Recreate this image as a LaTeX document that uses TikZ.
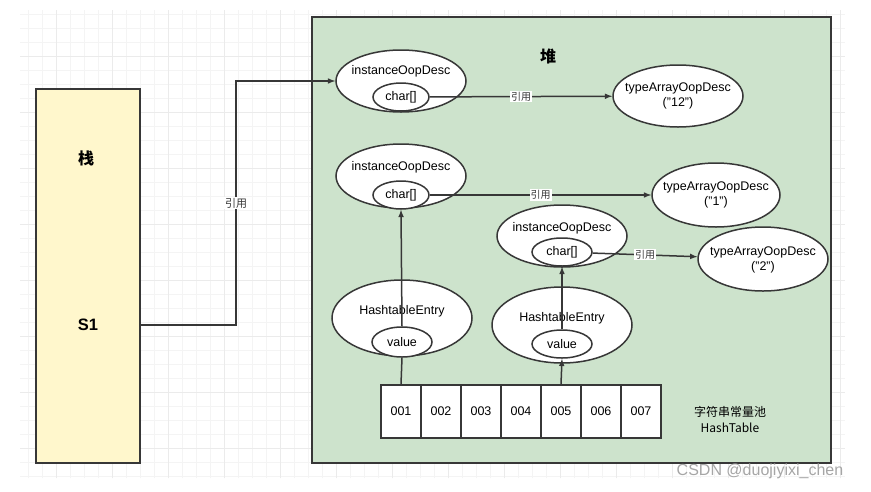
\documentclass[tikz,border=0pt]{standalone}
\usepackage{fontspec}
\setmainfont{Liberation Sans}
\newfontfamily\cjk{Noto Sans CJK SC}
\usetikzlibrary{arrows,shapes.geometric,positioning}

\definecolor{lineGray}{RGB}{55,55,55}
\definecolor{heapGreen}{RGB}{205,227,204}
\definecolor{stackYellow}{RGB}{255,247,204}

\begin{document}
\begin{tikzpicture}[>=latex, x=1pt, y=-1pt]
  \tikzstyle{gridMinor} = [gray!9, line width=0.4pt]
  \tikzstyle{gridMajor} = [gray!16, line width=0.5pt]
  \tikzstyle{area} = [draw=lineGray, line width=1.5pt]
  \tikzstyle{oop} = [draw=lineGray, line width=1.5pt, fill=white, ellipse, inner sep=0pt]
  \tikzstyle{oopText} = [font={\fontsize{12.5}{14.5}\selectfont}, align=center, inner sep=0pt]
  \tikzstyle{field} = [oop, font={\fontsize{12.5}{14.5}\selectfont}]
  \tikzstyle{cell} = [draw=lineGray, line width=1.5pt, fill=white, rectangle, minimum width=40pt, minimum height=53pt, font={\fontsize{12.5}{14.5}\selectfont}]
  \tikzstyle{title} = [font={\cjk\bfseries\fontsize{16}{18}\selectfont}]

  \tikzstyle{refEdgePortion} = [lineGray, line width=1.5pt];
  \tikzstyle{refEdge} = [refEdgePortion,->];
  \tikzstyle{edgeLabel} = [pos=0.5, fill=white, inner sep=1pt, font={\cjk\fontsize{10}{11}\selectfont}];

  \useasboundingbox (0,0) rectangle (871,491);
  \fill[white] (0,0) rectangle (871,491);

  % background grid
  \draw[gridMinor, step=14pt] (20,10) grid (845,478);
  \draw[gridMajor, step=56pt] (20,10) grid (845,478);

  % stack and heap
  \draw[area, fill=stackYellow] (36,89) rectangle (140,463);
  \draw[area, fill=heapGreen] (312,17) rectangle (831,463);
  \coordinate (stackE) at (140,276);
  \node[title] (stackT) at (86,158) {栈};
  \node[font={\bfseries\fontsize{16.5}{18}\selectfont}] (s1) at (88,325) {S1};
  \node[title] (heapT) at (548,56) {堆};

  % objects in the heap
  \node[oop, minimum width=130pt, minimum height=62pt] (i1) at (401,81) {};
  \node[oopText] (i1t) at (401,71) {instanceOopDesc};
  \node[field, minimum width=56pt, minimum height=28pt] (i1c) at (401,97) {char[]};

  \node[oop, minimum width=130pt, minimum height=64pt] (i2) at (401,176) {};
  \node[oopText] (i2t) at (401,167) {instanceOopDesc};
  \node[field, minimum width=56pt, minimum height=28pt] (i2c) at (401,195) {char[]};

  \node[oop, minimum width=130pt, minimum height=62pt] (i3) at (562,236) {};
  \node[oopText] (i3t) at (562,228) {instanceOopDesc};
  \node[field, minimum width=60pt, minimum height=28pt] (i3c) at (562,252) {char[]};

  \node[oop, minimum width=130pt, minimum height=62pt] (t1) at (678,96) {};
  \node[oopText] (t1t) at (678,96) {typeArrayOopDesc\\("12")};
  \node[oop, minimum width=128pt, minimum height=64pt] (t2) at (716,195) {};
  \node[oopText] (t2t) at (716,195) {typeArrayOopDesc\\("1")};
  \node[oop, minimum width=130pt, minimum height=64pt] (t3) at (763,259) {};
  \node[oopText] (t3t) at (763,260) {typeArrayOopDesc\\("2")};

  \node[oop, minimum width=140pt, minimum height=76pt] (h1) at (402,318) {};
  \node[oopText] (h1t) at (402,311) {HashtableEntry};
  \node[field, minimum width=60pt, minimum height=30pt] (h1v) at (402,342) {value};

  \node[oop, minimum width=140pt, minimum height=76pt] (h2) at (562,325) {};
  \node[oopText] (h2t) at (562,318) {HashtableEntry};
  \node[field, minimum width=60pt, minimum height=28pt] (h2v) at (562,344) {value};

  % string table
  \foreach \i in {1,...,7}
    \node[cell] (c\i) at (361+40*\i,411.5) {00\i};
  \node[align=center, font={\cjk\fontsize{12}{16}\selectfont}] (pool) at (730,419) {字符串常量池\\HashTable};

  \coordinate (turn) at (236,325);
  \draw[refEdge] (stackE |- s1) -- (turn) |- node[edgeLabel, pos=0.25, font={\cjk\fontsize{11}{12}\selectfont}] {引用} (i1.west);

  \path (i1c) edge[refEdge] node[edgeLabel] {引用} (t1)
        (i2c) edge[refEdge] node[edgeLabel] {引用} (t2)
        (i3c) edge[refEdge] node[edgeLabel] {引用} (t3)
        (c1.north) edge[refEdgePortion] (h1v.south)
        (h1v.north) edge[refEdge] (i2c.south)
        (c5.north) edge[refEdge] (h2v.south)
        (h2v.north) edge[refEdge] (i3c.south);

  \node[gray!70, font={\fontsize{16}{18}\selectfont}] (mark) at (760,471) {CSDN @duojiyixi\_chen};
\end{tikzpicture}
\end{document}
